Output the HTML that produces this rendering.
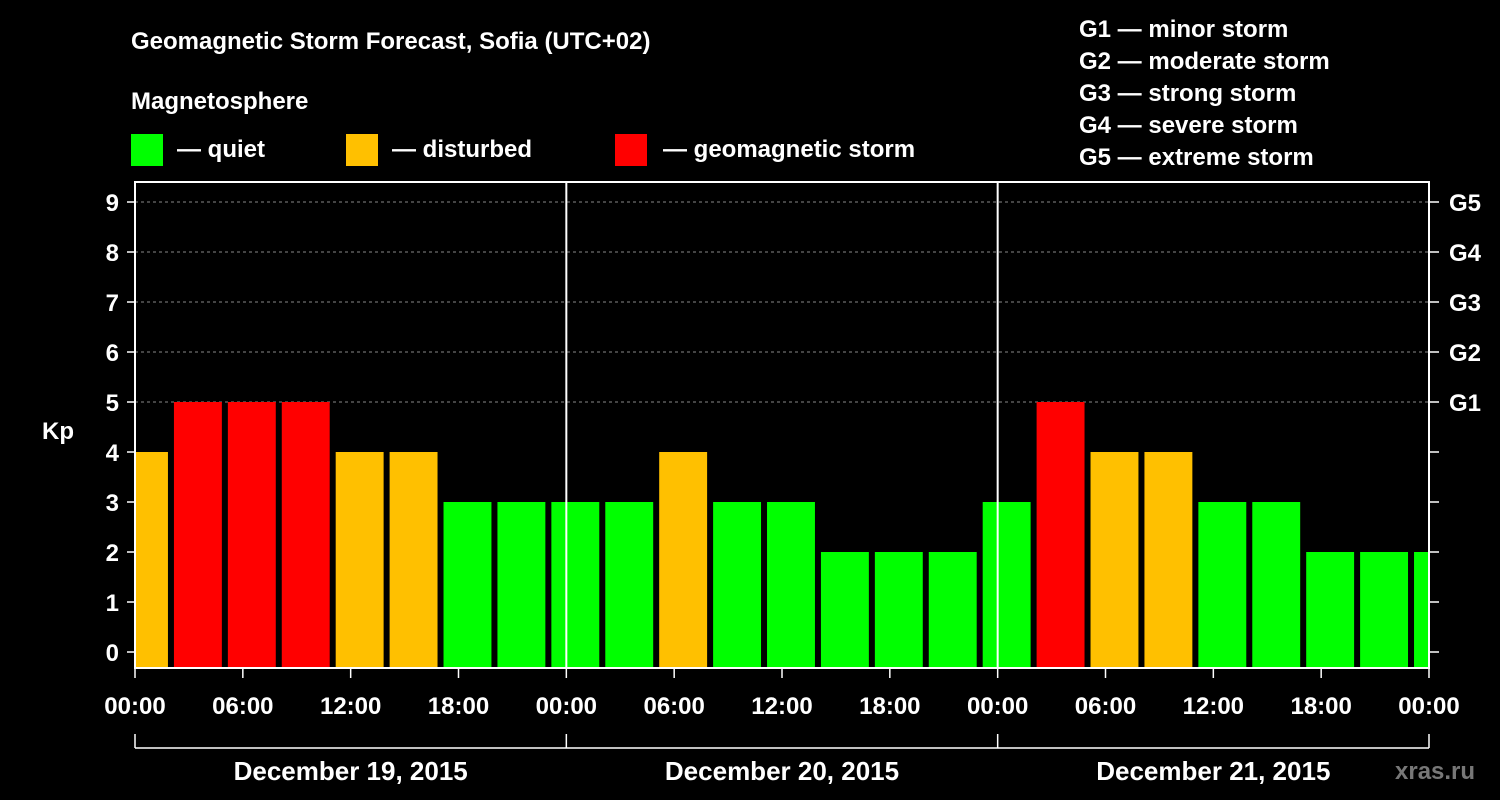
<!DOCTYPE html>
<html><head><meta charset="utf-8"><style>
body{margin:0;background:#000;}
svg{display:block;font-family:"Liberation Sans",sans-serif;font-weight:bold;}
</style></head><body>
<svg width="1500" height="800" viewBox="0 0 1500 800">
<rect width="1500" height="800" fill="#000"/>
<text x="131" y="49" fill="#fff" font-size="24">Geomagnetic Storm Forecast, Sofia (UTC+02)</text>
<text x="131" y="109" fill="#fff" font-size="24">Magnetosphere</text>
<g><rect x="131" y="134" width="32" height="32" fill="#00ff00"/><text x="177" y="157" fill="#fff" font-size="24">— quiet</text></g>
<g><rect x="346" y="134" width="32" height="32" fill="#ffc000"/><text x="392" y="157" fill="#fff" font-size="24">— disturbed</text></g>
<g><rect x="615" y="134" width="32" height="32" fill="#ff0000"/><text x="663" y="157" fill="#fff" font-size="24">— geomagnetic storm</text></g>
<g fill="#fff" font-size="24">
<text x="1079" y="37">G1 — minor storm</text>
<text x="1079" y="69">G2 — moderate storm</text>
<text x="1079" y="101">G3 — strong storm</text>
<text x="1079" y="133">G4 — severe storm</text>
<text x="1079" y="165">G5 — extreme storm</text>
</g>
<text x="42" y="439" fill="#fff" font-size="24">Kp</text>
<g id="grid"></g><g id="bars"></g><g id="axes"></g>
<text x="1395" y="779" fill="#777" font-size="24">xras.ru</text>
</svg>
<script>
const kpValues=[4,5,5,5,4,4,3,3,3,3,4,3,3,2,2,2,3,5,4,4,3,3,2,2,2];
const barStartHours=[-1,2,5,8,11,14,17,20,23,26,29,32,35,38,41,44,47,50,53,56,59,62,65,68,71];
const yTicks=[0,1,2,3,4,5,6,7,8,9];
const gLabels=["G1","G2","G3","G4","G5"];
const xTickLabels=["00:00","06:00","12:00","18:00","00:00","06:00","12:00","18:00","00:00","06:00","12:00","18:00","00:00"];
const dayLabels=["December 19, 2015","December 20, 2015","December 21, 2015"];
const NS="http://www.w3.org/2000/svg";
const X0=135,X1=1429,TOP=182,BOT=668,HOURS=72;
const xs=h=>X0+(h/HOURS)*(X1-X0);
const ys=v=>652-v*50;
function mk(tag,attrs,parent){const e=document.createElementNS(NS,tag);for(const k in attrs)e.setAttribute(k,attrs[k]);parent.appendChild(e);return e;}
const grid=document.getElementById('grid'),bars=document.getElementById('bars'),axes=document.getElementById('axes');
for(let v=5;v<=9;v++){const l=mk('line',{x1:X0,x2:X1,y1:ys(v),y2:ys(v),stroke:'#888','stroke-dasharray':'3,3','stroke-width':1},grid);

}
kpValues.forEach((v,i)=>{
 let a=Math.max(xs(barStartHours[i])+3,X0+1),b=Math.min(xs(barStartHours[i]+3)-3,X1-1);
 const c=v>=5?'#ff0000':(v>=4?'#ffc000':'#00ff00');
 const r=mk('rect',{x:a,y:ys(v),width:b-a,height:BOT-ys(v),fill:c},bars);
 
 
});
mk('rect',{x:X0,y:TOP,width:X1-X0,height:BOT-TOP,fill:'none',stroke:'#fff','stroke-width':2},axes);
[1,2].forEach(d=>{const l=mk('line',{x1:xs(d*24),x2:xs(d*24),y1:TOP,y2:BOT,stroke:'#fff','stroke-width':2},axes);

});
yTicks.forEach(v=>{
 mk('line',{x1:X0-8,x2:X0,y1:ys(v),y2:ys(v),stroke:'#fff','stroke-width':1.5},axes);
 mk('line',{x1:X1,x2:X1+10,y1:ys(v),y2:ys(v),stroke:'#fff','stroke-width':1.5},axes);
 const t=mk('text',{x:X0-16,y:ys(v)+9,fill:'#fff','font-size':24,'text-anchor':'end'},axes);t.textContent=v;
 
 
});
gLabels.forEach((g,i)=>{const t=mk('text',{x:1449,y:ys(5+i)+9,fill:'#fff','font-size':24},axes);t.textContent=g;
 
 });
xTickLabels.forEach((s,i)=>{const x=xs(i*6);
 mk('line',{x1:x,x2:x,y1:BOT,y2:BOT+10,stroke:'#fff','stroke-width':1.5},axes);
 const t=mk('text',{x:x,y:714,fill:'#fff','font-size':24,'text-anchor':'middle'},axes);t.textContent=s;
 
 });
mk('line',{x1:X0,x2:X1,y1:748,y2:748,stroke:'#fff','stroke-width':1.5},axes);
[0,1,2,3].forEach(d=>mk('line',{x1:xs(d*24),x2:xs(d*24),y1:734,y2:748,stroke:'#fff','stroke-width':1.5},axes));
dayLabels.forEach((s,i)=>{const t=mk('text',{x:xs(i*24+12),y:780,fill:'#fff','font-size':26,'text-anchor':'middle'},axes);t.textContent=s;
 
 });
</script>
</body></html>
